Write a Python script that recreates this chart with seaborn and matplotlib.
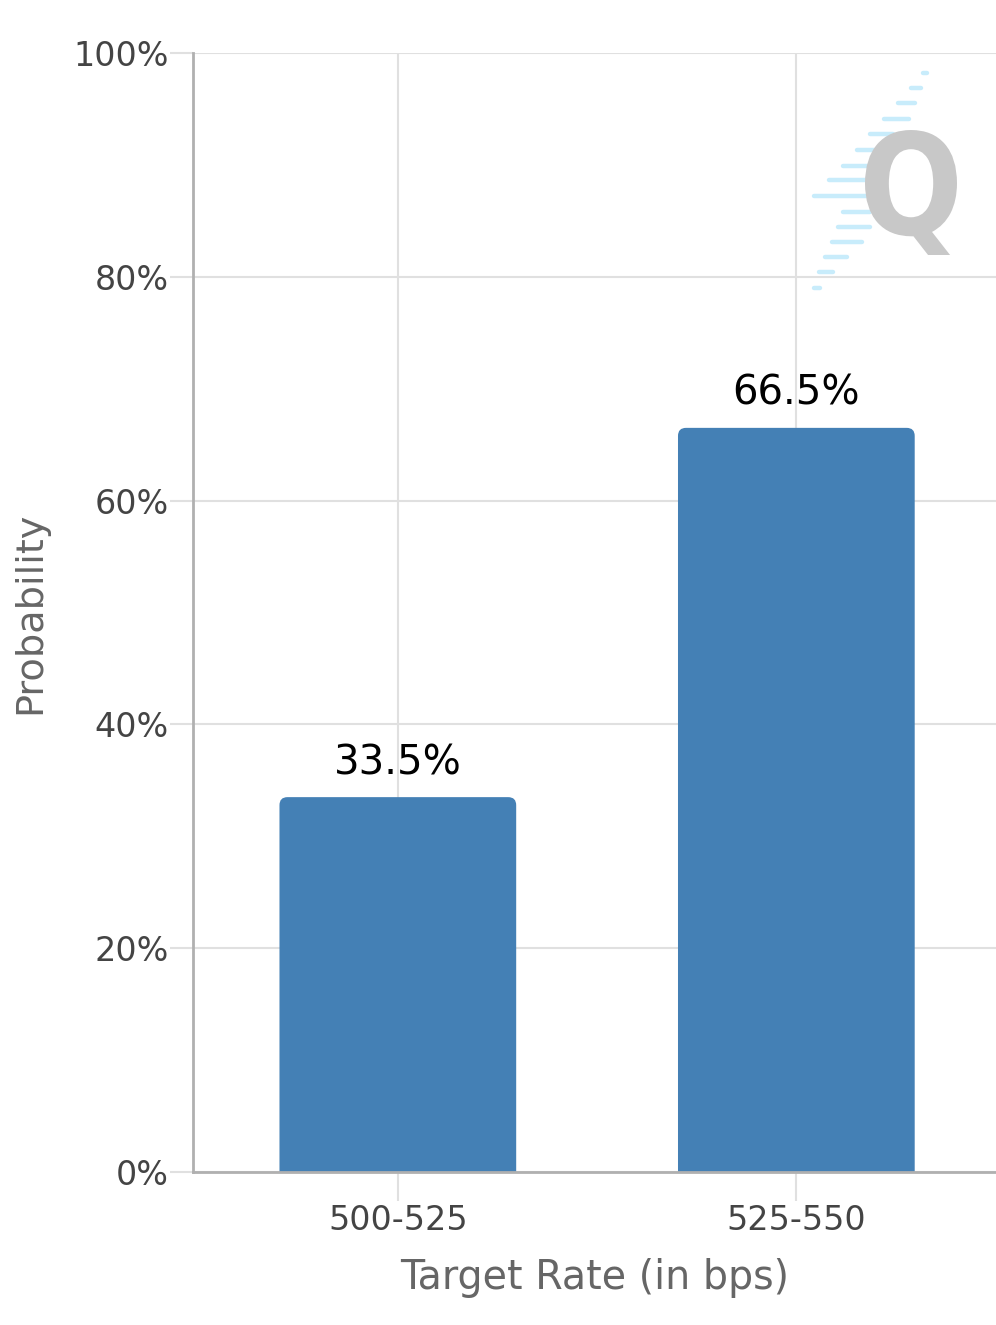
import matplotlib
matplotlib.use("Agg")
import matplotlib.pyplot as plt
import seaborn as sns
import pandas as pd
from matplotlib.patches import FancyBboxPatch, PathPatch
from matplotlib.lines import Line2D
from matplotlib.textpath import TextPath
from matplotlib.font_manager import FontProperties
from matplotlib.transforms import Affine2D
from matplotlib.ticker import FuncFormatter

categories = ["500-525", "525-550"]
probabilities = [33.5, 66.5]
y_ticks = [0, 20, 40, 60, 80, 100]

df = pd.DataFrame({"rate": categories, "prob": probabilities})

sns.set_style("white")
plt.rcParams["font.family"] = ["DejaVu Sans"]

W, H = 996, 1325
fig = plt.figure(figsize=(W / 100, H / 100), dpi=100)
ax = fig.add_axes([193 / W, 1 - 1172 / H, (996 - 193) / W, (1172 - 53) / H])

bar_color = "#4480B5"
sns.barplot(data=df, x="rate", y="prob", color=bar_color, width=0.594,
            saturation=1, ax=ax, zorder=3)

ax.set_xlim(-0.514, 1.501)
ax.set_ylim(0, 100)

# rounded top corners
r_px = 8
r_x = r_px / 399
r_y = r_px / 1119 * 100
for p in list(ax.patches):
    x, y, w, h = p.get_x(), p.get_y(), p.get_width(), p.get_height()
    p.remove()
    fb = FancyBboxPatch((x, y - 2 * r_y), w, h + 2 * r_y,
                        boxstyle=f"round,pad=0,rounding_size={r_x}",
                        mutation_aspect=r_y / r_x,
                        facecolor=bar_color, edgecolor="none", zorder=3,
                        clip_on=True)
    ax.add_patch(fb)

# value labels
for i, v in enumerate(probabilities):
    ax.annotate(f"{v}%", (i, v), xytext=(0, 24.5), textcoords="offset points",
                ha="center", va="center", fontsize=29, color="#000000",
                zorder=5)

grid_c = "#e0e0e0"
ax.set_yticks(y_ticks)
ax.yaxis.set_major_formatter(FuncFormatter(lambda v, _: f"{v:.0f}%"))
ax.grid(True, axis="both", color=grid_c, linewidth=1.5, zorder=0)
ax.set_axisbelow(True)

ax.tick_params(axis="y", left=True, length=16.5, width=1.5, color=grid_c, pad=1,
               labelsize=24, labelcolor="#444444")
ax.tick_params(axis="x", bottom=True, length=21, width=1.5, color=grid_c, pad=2,
               labelsize=24, labelcolor="#444444")

for s in ["top", "right"]:
    ax.spines[s].set_visible(False)
for s in ["left", "bottom"]:
    ax.spines[s].set_color("#b0b0b0")
    ax.spines[s].set_linewidth(2)
    ax.spines[s].set_zorder(4)

ax.set_xlabel("Target Rate (in bps)", fontsize=28.5, color="#666666", labelpad=15)
ax.set_ylabel("Probability", fontsize=27.5, color="#666666", labelpad=18)

# watermark: light blue stripes + gray Q
stripes = [
    (923, 927, 73), (911, 921, 88), (898, 915, 103), (884, 909, 119),
    (870, 893, 134), (857, 875, 150), (843, 868, 166), (829, 868, 180),
    (814, 868, 196), (843, 870, 212), (838, 870, 227), (832, 862, 242),
    (825, 847, 257), (819, 833, 272), (814, 820, 288),
]
for x0, x1, yy in stripes:
    fig.add_artist(Line2D([x0 / W, x1 / W], [1 - yy / H, 1 - yy / H],
                          color="#c8ecfb", linewidth=3.2, solid_capstyle="round",
                          zorder=6))

qpath = TextPath((0, 0), "Q", size=100, prop=FontProperties(family="DejaVu Sans", weight="bold"))
ext = qpath.get_extents()
bx0, bx1, by_top, by_bot = 865, 957, 130, 255
sx = (bx1 - bx0) / ext.width
sy = (by_bot - by_top) / ext.height
tr = (Affine2D().translate(-ext.x0, -ext.y0).scale(sx, sy)
      .translate(bx0, H - by_bot).scale(1 / W, 1 / H))
qpatch = PathPatch(tr.transform_path(qpath), facecolor="#c8c8c8", edgecolor="none",
                   transform=fig.transFigure, zorder=7)
fig.add_artist(qpatch)

fig.savefig("out.png", dpi=100)
